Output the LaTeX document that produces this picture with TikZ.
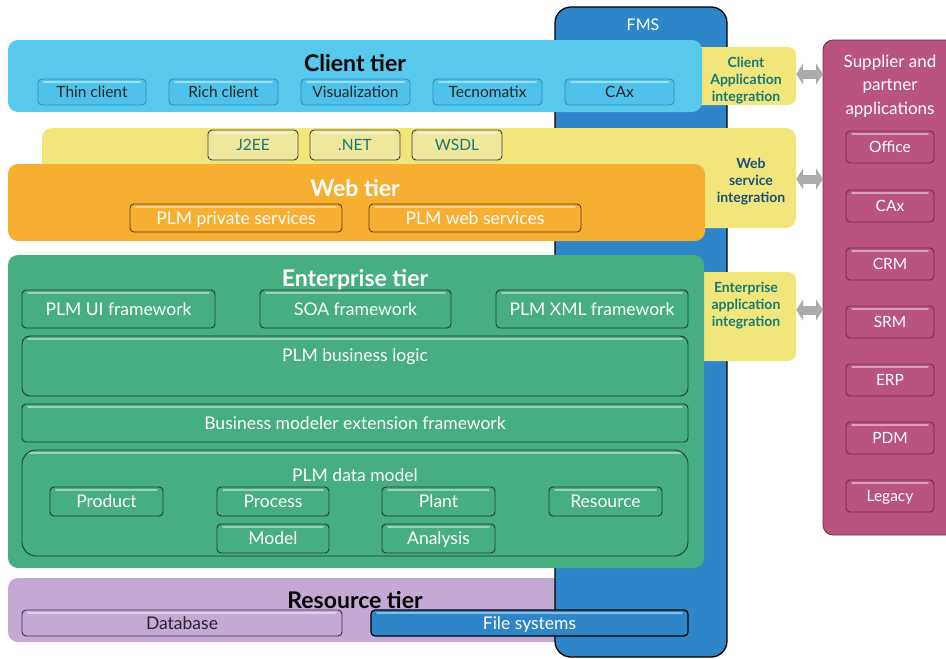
\documentclass[tikz,border=0pt]{standalone}
\usepackage{fontspec}
\setmainfont{Lato}
\usetikzlibrary{arrows.meta}
\definecolor{fmsblue}{HTML}{2E86C8}
\definecolor{cyanT}{HTML}{56C9EC}
\definecolor{cyanS}{HTML}{4EC2EA}
\definecolor{cyanB}{HTML}{2A8FBE}
\definecolor{yelT}{HTML}{F1E67B}
\definecolor{yelS}{HTML}{EEE79C}
\definecolor{oraT}{HTML}{F7AF31}
\definecolor{oraB}{HTML}{5A3A10}
\definecolor{grnT}{HTML}{46AE80}
\definecolor{grnB}{HTML}{1E3A2C}
\definecolor{lavT}{HTML}{C5A9D5}
\definecolor{lavB}{HTML}{3A2A45}
\definecolor{magT}{HTML}{B9537F}
\definecolor{magB}{HTML}{7A2850}
\definecolor{tealtxt}{HTML}{177A74}
\definecolor{navytxt}{HTML}{1B4E78}
\definecolor{arrgray}{HTML}{ABABAB}
\newcommand\subfont{\fontsize{17.5}{19}\selectfont}
\newcommand\smallsubfont{\fontsize{15.5}{17}\selectfont}
\newcommand\titfont{\bfseries\fontsize{23}{25}\selectfont}
\newcommand\intfont{\bfseries\fontsize{14}{17}\selectfont}
% \bx[style]{x1}{y1}{x2}{y2}{name}{text}
\newcommand\bx[7][]{\node[#1, minimum width={(#4-#2)*1pt}, minimum height={(#5-#3)*1pt}] (#6) at ({(#2+#4)/2},{(#3+#5)/2}) {#7};}
\tikzset{
  tier/.style={rounded corners=10pt, inner sep=0pt},
  sub/.style={rounded corners=4pt, inner sep=0pt, line width=0.9pt, font=\subfont,
    text height=12.6pt, text depth=0pt,
    path picture={\draw[white,opacity=.45,line width=1.6pt,line cap=round]
      ([xshift=6pt,yshift=-3pt]path picture bounding box.north west) --
      ([xshift=-6pt,yshift=-3pt]path picture bounding box.north east);}},
  small/.style={font=\smallsubfont, text height=11.2pt},
  csub/.style={sub, small, fill=cyanS, draw=cyanB, text=black!85},
  wsub/.style={sub, small, fill=yelS, draw=black!75, text=tealtxt},
  osub/.style={sub, fill=oraT, draw=oraB, text=white},
  gsub/.style={sub, fill=grnT, draw=grnB, text=white},
  msub/.style={sub, small, fill=magT, draw=magB, text=white},
  integ/.style={tier, rounded corners=8pt, fill=yelT},
  dbl/.style={line width=9pt, draw=arrgray, {Triangle[width=21pt,length=7pt]}-{Triangle[width=21pt,length=7pt]}},
}
\begin{document}
\begin{tikzpicture}[x=1pt,y=-1pt]
\useasboundingbox (0,0) rectangle (946,659);
\clip (0,0) rectangle (946,659);
% Resource tier (under FMS)
\bx[tier, fill=lavT]{8}{578}{620}{642}{res}{}
\node[font=\titfont, text=black] (restitle) at (355,600) {Resource tier};
% FMS column
\bx[inner sep=0pt, draw=black, line width=1.3pt, fill=fmsblue, rounded corners=16pt]{555}{7}{727}{657}{fms}{}
\node[text=white, font=\fontsize{16}{18}\selectfont] (fmstitle) at (643,25) {FMS};
% Client tier
\bx[integ]{690}{47}{796}{105}{cai}{}
\bx[tier, fill=cyanT]{8}{40}{702}{112}{client}{}
\node[font=\titfont, text=black] (clienttitle) at (355,63) {Client tier};
\bx[csub]{38}{79}{146}{105}{thin}{Thin client}
\bx[csub]{169}{79}{278}{105}{rich}{Rich client}
\bx[csub]{301}{79}{410}{105}{vis}{Visualization}
\bx[csub]{433}{79}{542}{105}{tecno}{Tecnomatix}
\bx[csub]{565}{79}{674}{105}{cax}{CAx}
\node[align=center, font=\intfont, text=tealtxt] (caitext) at (746,81) {Client\\Application\\integration};
% Web tier
\bx[tier, fill=yelT]{42}{128}{796}{228}{webback}{}
\bx[wsub]{208}{130}{298}{160}{j2ee}{J2EE}
\bx[wsub]{310}{130}{400}{160}{dotnet}{.NET}
\bx[wsub]{412}{130}{502}{160}{wsdl}{WSDL}
\bx[tier, fill=oraT]{8}{164}{705}{241}{web}{}
\node[font=\titfont, text=white] (webtitle) at (355,188) {Web tier};
\bx[osub]{130}{204}{342}{232}{priv}{PLM private services}
\bx[osub]{369}{204}{581}{232}{websvc}{PLM web services}
\node[align=center, font=\intfont, text=navytxt] (wsitext) at (751,182) {Web\\service\\integration};
% Enterprise tier
\bx[integ]{690}{272}{796}{361}{eai}{}
\bx[tier, fill=grnT]{8}{255}{704}{568}{ent}{}
\node[font=\titfont, text=white] (enttitle) at (355,280) {Enterprise tier};
\bx[gsub]{22}{290}{215}{328}{ui}{PLM UI framework}
\bx[gsub]{260}{290}{451}{328}{soa}{SOA framework}
\bx[gsub]{496}{290}{688}{328}{xml}{PLM XML framework}
\bx[gsub, rounded corners=8pt]{22}{336}{688}{396}{logic}{}
\node[text=white, font=\subfont] (logictext) at (355,357) {PLM business logic};
\bx[gsub]{22}{404}{688}{442}{bmx}{Business modeler extension framework}
\bx[gsub, rounded corners=14pt]{22}{450}{688}{556}{dm}{}
\node[text=white, font=\subfont] (dmtext) at (355,475) {PLM data model};
\bx[gsub]{50}{487}{163}{516}{product}{Product}
\bx[gsub]{217}{487}{329}{516}{process}{Process}
\bx[gsub]{382}{487}{495}{516}{plant}{Plant}
\bx[gsub]{549}{487}{662}{516}{resource}{Resource}
\bx[gsub]{217}{524}{329}{553}{model}{Model}
\bx[gsub]{382}{524}{495}{553}{analysis}{Analysis}
\node[align=center, font=\intfont, text=tealtxt] (eaitext) at (746,306) {Enterprise\\application\\integration};
% Resource tier boxes
\bx[sub, fill=lavT, draw=lavB, text=black!85]{22}{610}{342}{636}{db}{Database}
\bx[sub, fill=fmsblue, draw=black, line width=1.2pt, text=white]{371}{610}{688}{636}{fs}{File systems}
% Supplier and partner applications
\bx[tier, fill=magT, draw=magB, line width=0.8pt]{823}{40}{960}{535}{sup}{}
\node[align=center, text=white, font=\fontsize{17}{23.5}\selectfont] (suptitle) at (890,86) {Supplier and\\partner\\applications};
\bx[msub]{846}{131}{934}{163}{office}{Office}
\bx[msub]{846}{190}{934}{222}{scax}{CAx}
\bx[msub]{846}{248}{934}{280}{crm}{CRM}
\bx[msub]{846}{306}{934}{338}{srm}{SRM}
\bx[msub]{846}{364}{934}{396}{erp}{ERP}
\bx[msub]{846}{422}{934}{454}{pdm}{PDM}
\bx[msub]{846}{480}{934}{512}{legacy}{Legacy}
% Arrows
\coordinate (a1) at (823,74);
\coordinate (a2) at (823,179);
\coordinate (a3) at (823,310);
\draw[dbl] (cai.east |- a1) -- (a1);
\draw[dbl] (webback.east |- a2) -- (a2);
\draw[dbl] (eai.east |- a3) -- (a3);
\end{tikzpicture}
\end{document}
